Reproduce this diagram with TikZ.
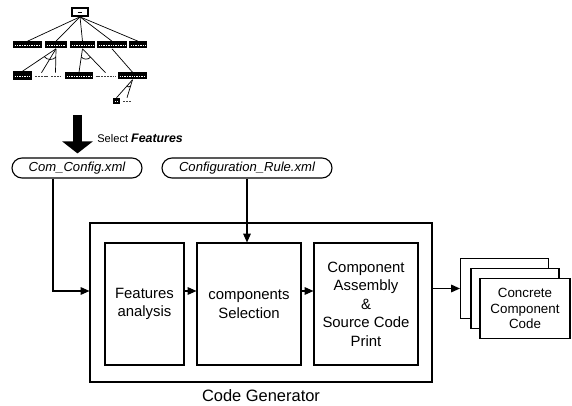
\documentclass[tikz,border=0pt]{standalone}
\usepackage{fontspec}
\setmainfont{Liberation Sans}
\usetikzlibrary{arrows.meta,calc}

\begin{document}
\begin{tikzpicture}[x=0.025cm, y=-0.025cm,
    >={Triangle[length=2.2mm,width=1.9mm]},
    tfeat/.style={fill=black, inner sep=0pt, minimum height=7*\u,
        path picture={\draw[white, line width=0.45pt, dash pattern=on 1pt off 0.7pt]
            ([xshift=1.2pt]path picture bounding box.west) -- ([xshift=-1.2pt]path picture bounding box.east);}},
    ttext/.style={inner sep=0pt, minimum height=6*\u,
        path picture={\draw[black!75, line width=0.6pt, dash pattern=on 1.4pt off 0.6pt]
            ([xshift=0.8pt]path picture bounding box.west) -- ([xshift=-0.8pt]path picture bounding box.east);}},
    tedge/.style={line width=0.5pt},
    xmlbox/.style={draw, line width=0.8pt, rounded corners=10*\u, inner sep=0pt,
        minimum height=20*\u, font=\fontsize{9.3}{11}\selectfont\itshape},
    stepbox/.style={draw, line width=0.8pt, fill=white, inner sep=0pt, align=center,
        minimum width=#1*\u, minimum height=122*\u,
        font=\fontsize{10.6}{13.2}\selectfont},
    page/.style={draw, line width=0.8pt, fill=white, inner sep=0pt, align=center,
        minimum width=88*\u, minimum height=60*\u,
        font=\fontsize{9.5}{11}\selectfont},
    link/.style={line width=0.8pt, ->}
    ]
    \def\u{0.025cm}

    % Page size
    \useasboundingbox (0,0) rectangle (572,406);

    % Feature tree
    \node[draw, line width=1.2pt, fill=white, inner sep=0pt, minimum width=16*\u, minimum height=8*\u,
        path picture={\draw[black, line width=0.7pt] ([xshift=4pt]path picture bounding box.west) -- ([xshift=-4pt]path picture bounding box.east);}]
        (root) at (80,12) {};
    \node[tfeat, minimum width=29*\u] (a1) at (27.5,45) {};
    \node[tfeat, minimum width=22*\u] (a2) at (56,45) {};
    \node[tfeat, minimum width=25*\u] (a3) at (82.5,45) {};
    \node[tfeat, minimum width=30*\u] (a4) at (112,45) {};
    \node[tfeat, minimum width=18*\u] (a5) at (138,45) {};
    \foreach \n in {a1,a2,a3,a4,a5}
        \draw[tedge] (root.south) -- (\n.north);

    \node[tfeat, minimum width=19*\u, minimum height=9*\u] (b1) at (22.5,76) {};
    \node[ttext, minimum width=15*\u] (b2) at (41.5,76) {};
    \node[ttext, minimum width=11*\u] (b3) at (55.5,76) {};
    \node[tfeat, minimum width=28*\u] (b4) at (79,76) {};
    \node[ttext, minimum width=22*\u] (b5) at (105.5,76) {};
    \node[tfeat, minimum width=29*\u] (b6) at (132.5,76) {};
    \foreach \n in {b1,b2,b3}
        \draw[tedge] (a2.south) -- (\n.north);
    \foreach \n in {b4,b5}
        \draw[tedge] (a3.south) -- (\n.north);
    \draw[tedge] (a4.south) -- (b6.north);
    \draw[tedge] ($(a2.south)!0.35!(b1.north)$) to[bend right=50] ($(a2.south)!0.35!(b3.north)$);
    \draw[tedge] ($(a3.south)!0.35!(b4.north)$) to[bend right=50] ($(a3.south)!0.35!(b5.north)$);

    \node[tfeat, minimum width=7*\u, minimum height=6*\u] (c1) at (116.5,101) {};
    \node[ttext, minimum width=10*\u] (c2) at (127,101) {};
    \foreach \n in {c1,c2}
        \draw[tedge] (b6.south) -- (\n.north);
    \draw[tedge] ($(b6.south)!0.35!(c1.north)$) to[bend right=50] ($(b6.south)!0.35!(c2.north)$);

    % Input files
    \node[xmlbox, minimum width=130*\u] (cfg) at (77,168) {Com\_Config.xml};
    \node[xmlbox, minimum width=170*\u] (rule) at (247,168) {Configuration\_Rule.xml};

    % Selection arrow
    \coordinate (sel) at (77.5,115);
    \draw[line width=9*\u, -{Triangle[length=12*\u,width=30*\u]}, shorten >=4*\u] (sel) -- (sel |- cfg.north);
    \node[anchor=west, inner sep=0pt, font=\fontsize{7.9}{9}\selectfont] (seltext) at (97,138)
        {Select \fontsize{8.8}{9}\selectfont\bfseries\itshape Features};

    % Code generator
    \coordinate (arr) at (0,291);
    \node[draw, line width=0.8pt, minimum width=342*\u, minimum height=159*\u, inner sep=0pt] (gen) at (261,302.5) {};
    \node[font=\fontsize{11.7}{13}\selectfont] (genlabel) at (261,396) {Code Generator};
    \node[stepbox=79] (fa) at (144.5,304) {Features\\analysis};
    \node[stepbox=104] (cs) at (249,304) {components\\Selection};
    \node[stepbox=104] (ca) at (366,304) {Component\\Assembly\\\&\\Source Code\\Print};

    \draw[link] (fa.east |- arr) -- (cs.west |- arr);
    \draw[link] (cs.east |- arr) -- (ca.west |- arr);
    \draw[link] ([xshift=-24*\u]cfg.south) |- (gen.west |- arr);
    \draw[link] (rule.south) -- (rule.south |- cs.north);

    % Generated code
    \node[page] (p1) at (504.5,288.5) {};
    \node[page] (p2) at (515,298.5) {};
    \node[page, minimum width=90*\u] (p3) at (525,308.5) {Concrete\\Component\\Code};
    \draw[link] (gen.east |- p1.west) -- (p1.west);

\end{tikzpicture}
\end{document}
